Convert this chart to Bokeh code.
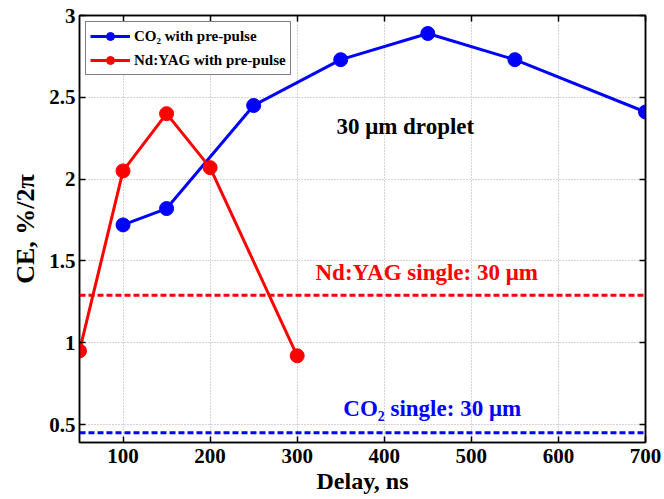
from bokeh.plotting import figure
from bokeh.models import Span, Label, LinearAxis, FixedTicker, Legend, LegendItem, CustomJSTickFormatter
from bokeh.embed import file_html
from bokeh.resources import INLINE

co2_delay = [100, 150, 250, 350, 450, 550, 700]
co2_ce = [1.72, 1.82, 2.45, 2.73, 2.89, 2.73, 2.41]
yag_delay = [50, 100, 150, 200, 300]
yag_ce = [0.95, 2.05, 2.40, 2.07, 0.92]
yag_single = 1.29
co2_single = 0.45
x_ticks = [100, 200, 300, 400, 500, 600, 700]
y_ticks = [0.5, 1, 1.5, 2, 2.5, 3]
y_tick_labels = ["0.5", "1", "1.5", "2", "2.5", "3"]

FONT = "Liberation Serif"
BLUE = "#0000ff"
RED = "#ff0000"

p = figure(width=664, height=499, x_range=(50, 700), y_range=(0.39, 3.0),
           output_backend="svg", toolbar_location=None,
           min_border_left=79, min_border_right=19, min_border_top=15, min_border_bottom=57)
p.outline_line_color = "black"
p.outline_line_width = 1.5
p.background_fill_color = "white"
p.border_fill_color = "white"

for ax in (p.xaxis[0], p.yaxis[0]):
    ax.major_tick_in = 6
    ax.major_tick_out = 0
    ax.minor_tick_in = 0
    ax.minor_tick_out = 0
    ax.axis_line_width = 1.5
    ax.major_tick_line_width = 1.5
    ax.major_label_text_font = FONT
    ax.major_label_text_font_style = "bold"
    ax.major_label_text_font_size = "21px"
    ax.major_label_text_color = "black"
    ax.axis_label_text_font = FONT
    ax.axis_label_text_font_style = "bold"
    ax.axis_label_text_font_size = "24px"
    ax.axis_label_text_color = "black"

p.xaxis.ticker = FixedTicker(ticks=x_ticks)
p.yaxis.ticker = FixedTicker(ticks=y_ticks)
p.yaxis.major_label_overrides = {t: s for t, s in zip(y_ticks, y_tick_labels)}
p.xaxis.axis_label = "Delay, ns"
p.yaxis.axis_label = "CE, %/2π"
p.yaxis.axis_label_text_font_size = "26px"
p.xaxis.major_label_standoff = 6
p.xaxis.axis_label_standoff = 2
p.yaxis.major_label_standoff = 4
p.yaxis.axis_label_standoff = 6

blank = CustomJSTickFormatter(code="return ''")
top = LinearAxis(ticker=FixedTicker(ticks=x_ticks), major_tick_in=6, major_tick_out=0,
                 minor_tick_in=0, minor_tick_out=0, formatter=blank,
                 axis_line_width=1.5, major_tick_line_width=1.5, major_label_standoff=0)
right = LinearAxis(ticker=FixedTicker(ticks=y_ticks), major_tick_in=6, major_tick_out=0,
                   minor_tick_in=0, minor_tick_out=0, formatter=blank,
                   axis_line_width=1.5, major_tick_line_width=1.5, major_label_standoff=0)
p.add_layout(top, "above")
p.add_layout(right, "right")

p.xgrid.ticker = FixedTicker(ticks=x_ticks)
p.ygrid.ticker = FixedTicker(ticks=y_ticks)
for g in (p.xgrid[0], p.ygrid[0]):
    g.grid_line_color = "#aaaaaa"
    g.grid_line_dash = "1 2"
    g.grid_line_width = 1

p.add_layout(Span(location=yag_single, dimension="width", line_color=RED,
                  line_width=3, line_dash="6 3"))
p.add_layout(Span(location=co2_single, dimension="width", line_color=BLUE,
                  line_width=3, line_dash="6 3"))

l1 = p.line(co2_delay, co2_ce, line_color=BLUE, line_width=3)
c1 = p.scatter(co2_delay, co2_ce, size=14, fill_color=BLUE, line_color=BLUE)
l2 = p.line(yag_delay, yag_ce, line_color=RED, line_width=3)
c2 = p.scatter(yag_delay, yag_ce, size=14, fill_color=RED, line_color=RED)

p.add_layout(Label(x=345, y=2.32, text="30 μm droplet", text_font=FONT,
                   text_font_style="bold", text_font_size="23px", text_color="black",
                   text_baseline="middle"))
p.add_layout(Label(x=321, y=1.43, text="Nd:YAG single: 30 μm", text_font=FONT,
                   text_font_style="bold", text_font_size="23px", text_color=RED,
                   text_baseline="middle"))
p.add_layout(Label(x=353, y=0.6, text="CO₂ single: 30 μm", text_font=FONT,
                   text_font_style="bold", text_font_size="23px", text_color=BLUE,
                   text_baseline="middle"))

legend = Legend(items=[LegendItem(label="CO₂ with pre-pulse", renderers=[l1, c1]),
                       LegendItem(label="Nd:YAG with pre-pulse", renderers=[l2, c2])],
                location="top_left")
legend.label_text_font = FONT
legend.label_text_font_style = "bold"
legend.label_text_font_size = "15px"
legend.label_text_color = "black"
legend.border_line_color = "black"
legend.border_line_width = 1
legend.background_fill_alpha = 1
legend.glyph_width = 40
legend.glyph_height = 20
legend.spacing = 4
legend.padding = 4
legend.margin = 6
legend.label_standoff = 4
p.add_layout(legend)

open("out.html", "w").write(file_html(p, INLINE))
